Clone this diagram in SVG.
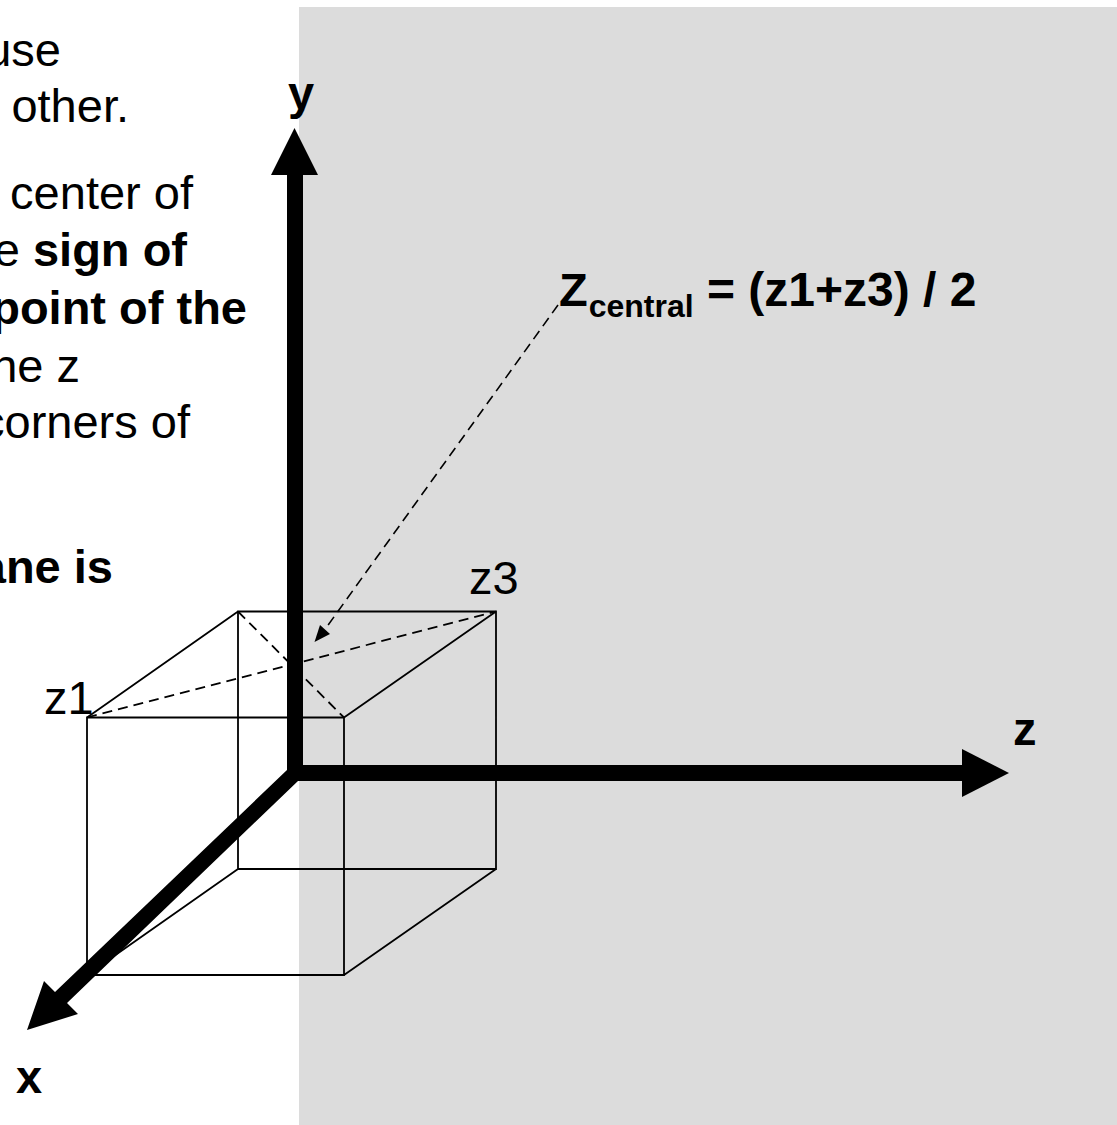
<svg xmlns="http://www.w3.org/2000/svg" width="1117" height="1125" viewBox="0 0 1117 1125">
<style>
text{font-family:"Liberation Sans",Arial,sans-serif;fill:#000;font-size:47px}
.b{font-weight:bold}
.s{font-size:32px}
.m{font-size:48px}
.c{fill:none;stroke:#000;stroke-width:1.8}
.d{fill:none;stroke:#000;stroke-width:1.8;stroke-dasharray:10 6}
.a{fill:none;stroke:#000;stroke-width:16}
</style>
<rect width="1117" height="1125" fill="#fff"/>
<rect x="299" y="7" width="818" height="1118" fill="#dcdcdc"/>
<g id="caption">
<text text-anchor="end" x="61" y="66">use</text>
<text text-anchor="end" x="129" y="122">other.</text>
<text text-anchor="end" x="193" y="209">center of</text>
<text text-anchor="end" x="187" y="266">e <tspan class="b">sign of</tspan></text>
<text class="b" text-anchor="end" x="247" y="324">point of the</text>
<text text-anchor="end" x="80" y="382">ne z</text>
<text text-anchor="end" x="190" y="438">corners of</text>
<text class="b" text-anchor="end" x="113" y="583">ane is</text>
</g>
<g id="connectors">
<path class="c" d="M87 717.5H344V975H87ZM238 611.5H496V869H238ZM87 717.5L238 611.5M344 717.5L496 611.5M344 975L496 869M87 975L238 869"/>
<path class="d" d="M87 717.5L496 611.5M238 611.5L344 717.5"/>
<path class="d" style="stroke-width:1.6" d="M558 305L326 628"/>
<polygon points="314.5,642 320,625 330,634"/>
<path class="a" d="M295 781V170"/>
<polygon points="294.5,128 318,175 271,175"/>
<path class="a" d="M295 773H965"/>
<polygon points="1009,773 962,749 962,797"/>
<polygon points="287,770 55,992 44,981 27,1030 78,1014 67,1003 298,781 298,765"/>
</g>
<g id="labels">
<text class="b" x="288" y="109">y</text>
<text class="b" x="1013" y="745">z</text>
<text class="b" x="16" y="1093">x</text>
<text x="469" y="594">z3</text>
<text x="44" y="714">z1</text>
<text class="b" x="559" y="306">Z<tspan class="s" dx="1" dy="11">central</tspan><tspan class="m" x="707" dy="-11">= (z1+z3) / 2</tspan></text>
</g>
</svg>
